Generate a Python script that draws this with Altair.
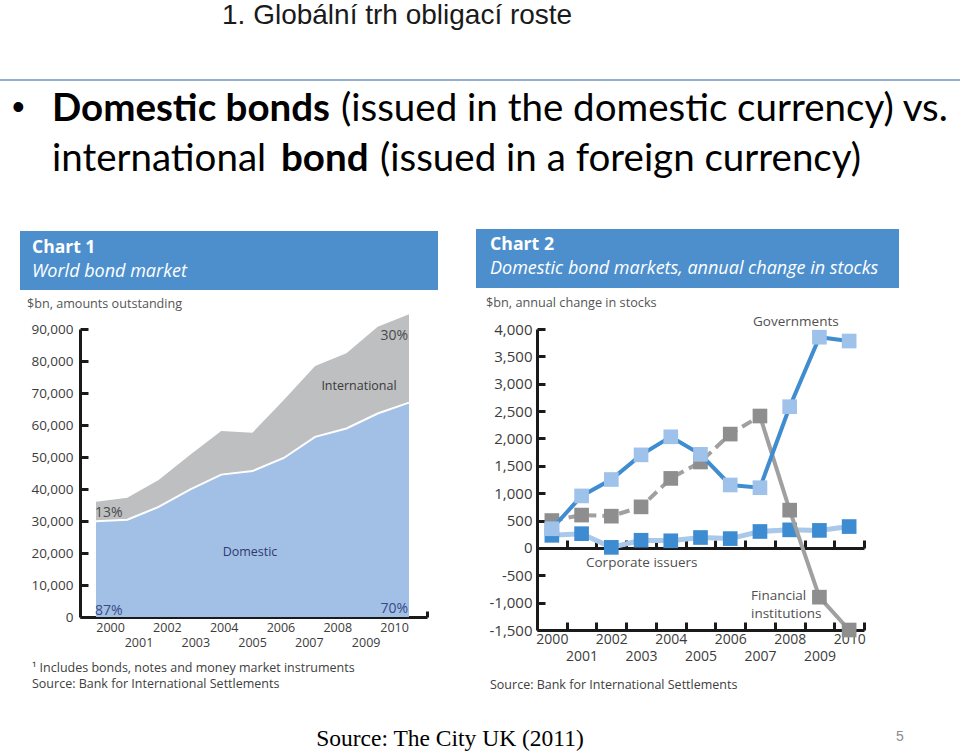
import altair as alt
import pandas as pd

# ---------------- data ----------------
years = list(range(2000, 2011))

# Chart 1: world bond market, $bn outstanding
domestic_bn = [29900, 30400, 34400, 39800, 44500, 45600, 49700, 56300, 58900, 63600, 67000]
international_bn = [6100, 6900, 8400, 10800, 13600, 12000, 18100, 22100, 23500, 27100, 27600]

# Chart 2: domestic bond markets, annual change in stocks, $bn
governments = [350, 950, 1250, 1700, 2030, 1710, 1150, 1100, 2580, 3850, 3780]
financial = [500, 600, 580, 750, 1270, 1570, 2080, 2410, 690, -900, -1500]
corporate = [230, 260, 10, 140, 130, 190, 170, 300, 330, 320, 390]

y1_ticks = list(range(0, 90001, 10000))
y2_ticks = list(range(-1500, 4001, 500))
x2_ticks = [y + 0.5 for y in years]

df1 = pd.DataFrame({"year": years, "domestic": domestic_bn, "international": international_bn})
df1["total"] = df1["domestic"] + df1["international"]
df2 = pd.DataFrame({"year": years, "gov": governments, "fin": financial, "corp": corporate})

W, H = 960, 753
CF = "Open Sans"
AXC = "#1a1a1a"

# ---------------- scales ----------------
x1s = alt.Scale(domain=[2000, 2010], range=[96, 409], nice=False, zero=False)
y1s = alt.Scale(domain=[0, 90000], range=[617, 329], nice=False, zero=False)
x1lab = alt.Scale(domain=[1998.94, 2011.16], range=[80, 427], nice=False, zero=False)
x2s = alt.Scale(domain=[1999.5, 2010.5], range=[537, 864], nice=False, zero=False)
y2s = alt.Scale(domain=[-1500, 4000], range=[630, 329], nice=False, zero=False)


def txt(s, x, y, size, font=CF, color="#404040", weight="normal", style="normal",
        align="left", baseline="alphabetic"):
    return alt.Chart(alt.Data(values=[{}])).mark_text(
        font=font, fontSize=size, fontWeight=weight, fontStyle=style,
        color=color, align=align, baseline=baseline
    ).encode(x=alt.value(x), y=alt.value(y), text=alt.value(s))


def rect(x, x2, y, y2, color):
    return alt.Chart(alt.Data(values=[{}])).mark_rect(color=color).encode(
        x=alt.value(x), x2=alt.value(x2), y=alt.value(y), y2=alt.value(y2))


layers = []

# ---------------- slide header ----------------
layers.append(txt("1. Globální trh obligací roste", 222, 24, 28, font="Liberation Sans", color="#1a1a1a"))
layers.append(alt.Chart(alt.Data(values=[{}])).mark_rule(color="#6f93c0", strokeWidth=1.5).encode(
    x=alt.value(0), x2=alt.value(W), y=alt.value(80)))
layers.append(txt("•", 12, 119, 36, font="Liberation Sans", color="#000000"))
BF = 38.5
layers.append(txt("Domestic bonds", 52, 121, BF, font="Lato", weight="bold", color="#000000"))
layers.append(txt("(issued in the domestic currency) vs.", 341, 121, BF, font="Lato", color="#000000"))
layers.append(txt("international", 52, 171, BF, font="Lato", color="#000000"))
layers.append(txt("bond", 281, 171, BF, font="Lato", weight="bold", color="#000000"))
layers.append(txt("(issued in a foreign currency)", 380, 171, BF, font="Lato", color="#000000"))

# ---------------- chart 1 ----------------
HB = "#4d8fcd"
layers.append(rect(20, 438, 231, 290, HB))
layers.append(txt("Chart 1", 32, 253, 17.5, weight="bold", color="white"))
layers.append(txt("World bond market", 32, 277, 18, style="italic", color="white"))
layers.append(txt("$bn, amounts outstanding", 27, 308, 12.6, color="#555555"))

y1ax = alt.Axis(orient="right", offset=80 - W, values=y1_ticks,
                labelExpr="format(datum.value, ',')",
                domain=True, domainColor=AXC, domainWidth=3, ticks=True, tickSize=8,
                tickWidth=3, tickColor=AXC, labelPadding=-15, labelAlign="right",
                labelBaseline="middle", labelFont=CF, labelFontSize=13.5,
                labelColor="#3c3c3c", grid=False, title=None, labelOverlap=False,
                labelFlush=False, zindex=0)

area_tot = alt.Chart(df1).mark_area(color="#bebfc1", opacity=1).encode(
    x=alt.X("year:Q", scale=x1s, axis=None),
    y=alt.Y("total:Q", scale=y1s, axis=y1ax, stack=None))
area_dom = alt.Chart(df1).mark_area(color="#a2bfe6", opacity=1).encode(
    x=alt.X("year:Q", scale=x1s, axis=None),
    y=alt.Y("domestic:Q", scale=y1s, axis=None, stack=None))
line_dom = alt.Chart(df1).mark_line(color="white", strokeWidth=2).encode(
    x=alt.X("year:Q", scale=x1s, axis=None),
    y=alt.Y("domestic:Q", scale=y1s, axis=None))

x1ax = alt.Axis(orient="top", offset=-617, values=years + [2011.16], format="d",
                labelExpr="datum.value > 2010.5 ? '' : (datum.value % 2 == 1 ? ['', datum.label] : datum.label)",
                domain=True, domainColor=AXC, domainWidth=3, ticks=True, tickSize=6,
                tickWidth=3, tickColor=AXC, labelPadding=-10, labelBaseline="top",
                labelAlign="center", labelLineHeight=15, labelFont=CF, labelFontSize=12.5,
                labelColor="#3c3c3c", grid=False, title=None, labelOverlap=False,
                labelFlush=False, zindex=0)
x1_helper = alt.Chart(df1).mark_point(opacity=0).encode(
    x=alt.X("year:Q", scale=x1lab, axis=x1ax), y=alt.value(617))

layers += [x1_helper, area_tot, area_dom, line_dom]

layers.append(txt("30%", 408, 340, 14, color="#4a4a4a", align="right"))
layers.append(txt("International", 359, 390, 12.5, color="#3a3a3a", align="center"))
layers.append(txt("13%", 95, 517, 14, color="#4a4a4a"))
layers.append(txt("Domestic", 250, 556, 12.5, color="#2f3b6e", align="center"))
layers.append(txt("87%", 95, 615, 14, color="#3b4a86"))
layers.append(txt("70%", 408, 613, 14, color="#3b4a86", align="right"))
layers.append(txt("¹ Includes bonds, notes and money market instruments", 32, 672, 12.5, color="#404040"))
layers.append(txt("Source: Bank for International Settlements", 32, 688, 12.5, color="#404040"))

# ---------------- chart 2 ----------------
layers.append(rect(476, 899, 229, 288, HB))
layers.append(txt("Chart 2", 490, 250, 17.7, weight="bold", color="white"))
layers.append(txt("Domestic bond markets, annual change in stocks", 490, 274, 18, style="italic", color="white"))
layers.append(txt("$bn, annual change in stocks", 486, 307, 12.7, color="#555555"))

y2ax = alt.Axis(orient="right", offset=537 - W, values=y2_ticks,
                labelExpr="datum.value < 0 ? '-' + format(-datum.value, ',') : format(datum.value, ',')",
                domain=True, domainColor=AXC, domainWidth=3, ticks=True, tickSize=8,
                tickWidth=3, tickColor=AXC, labelPadding=-13, labelAlign="right",
                labelBaseline="middle", labelFont=CF, labelFontSize=15,
                labelColor="#3c3c3c", grid=False, title=None, labelOverlap=False,
                labelFlush=False, zindex=0)
x2zero = alt.Axis(orient="top", offset=-548, values=x2_ticks, labels=False,
                  domain=True, domainColor=AXC, domainWidth=3, ticks=True, tickSize=8,
                  tickWidth=3, tickColor=AXC, grid=False, title=None, zindex=0)
x2bot = alt.Axis(orient="top", offset=-630, values=x2_ticks,
                 labelExpr="floor(datum.value) % 2 == 1 ? ['', '' + floor(datum.value)] : '' + floor(datum.value)",
                 domain=True, domainColor=AXC, domainWidth=3, ticks=True, tickSize=8,
                 tickWidth=3, tickColor=AXC, labelPadding=-10, labelBaseline="top",
                 labelAlign="center", labelLineHeight=17, labelOffset=-14.85,
                 labelFont=CF, labelFontSize=14, labelColor="#3c3c3c", grid=False,
                 title=None, labelOverlap=False, labelFlush=False, zindex=0)

x2_helper = alt.Chart(df2).mark_point(opacity=0).encode(
    x=alt.X("year:Q", scale=x2s, axis=x2bot), y=alt.value(630))

SQ = 215
corp_line = alt.Chart(df2).mark_line(color="#a9c8ea", strokeWidth=5).encode(
    x=alt.X("year:Q", scale=x2s, axis=x2zero),
    y=alt.Y("corp:Q", scale=y2s, axis=y2ax))
corp_pts = alt.Chart(df2).mark_square(color="#3d8bd0", size=SQ, opacity=1).encode(
    x=alt.X("year:Q", scale=x2s, axis=None),
    y=alt.Y("corp:Q", scale=y2s, axis=None))
fin_dash = alt.Chart(df2).transform_filter("datum.year <= 2007").mark_line(
    color="#a0a0a0", strokeWidth=4, strokeDash=[11, 6]).encode(
    x=alt.X("year:Q", scale=x2s, axis=None),
    y=alt.Y("fin:Q", scale=y2s, axis=None))
fin_solid = alt.Chart(df2).transform_filter("datum.year >= 2007").mark_line(
    color="#a0a0a0", strokeWidth=4).encode(
    x=alt.X("year:Q", scale=x2s, axis=None),
    y=alt.Y("fin:Q", scale=y2s, axis=None))
fin_pts = alt.Chart(df2).mark_square(color="#8e8e8e", size=SQ, opacity=1).encode(
    x=alt.X("year:Q", scale=x2s, axis=None),
    y=alt.Y("fin:Q", scale=y2s, axis=None))
gov_line = alt.Chart(df2).mark_line(color="#3f8dd0", strokeWidth=4).encode(
    x=alt.X("year:Q", scale=x2s, axis=None),
    y=alt.Y("gov:Q", scale=y2s, axis=None))
gov_pts = alt.Chart(df2).mark_square(color="#9ec2ea", size=SQ, opacity=1).encode(
    x=alt.X("year:Q", scale=x2s, axis=None),
    y=alt.Y("gov:Q", scale=y2s, axis=None))

layers += [x2_helper, corp_line, corp_pts, fin_dash, fin_solid, fin_pts, gov_line, gov_pts]

layers.append(txt("Governments", 753, 326, 13.5, color="#505050"))
layers.append(txt("Corporate issuers", 586, 567, 13.5, color="#505050"))
layers.append(txt("Financial", 751, 600, 13.5, color="#505050"))
layers.append(txt("institutions", 751, 618, 13.5, color="#505050"))
layers.append(txt("Source: Bank for International Settlements", 490, 689, 12.5, color="#404040"))

# ---------------- footer ----------------
layers.append(txt("Source: The City UK (2011)", 450, 746, 23.5, font="Liberation Serif",
                  color="#000000", align="center"))
layers.append(txt("5", 900, 741, 14, font="Liberation Sans", color="#8c8c8c", align="center"))

chart = alt.layer(*layers).resolve_scale(x="independent", y="independent").resolve_axis(
    x="independent", y="independent").properties(
    width=W, height=H, padding=0, autosize=alt.AutoSizeParams(type="none"),
    background="white").configure_view(stroke=None)

chart.save("out.html", embed_options={"renderer": "svg", "actions": False})
